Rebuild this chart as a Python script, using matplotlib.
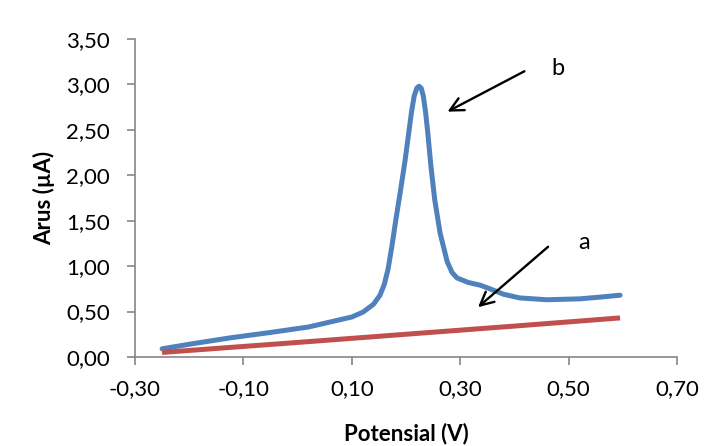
"""
Voltammogram of samples a and b: current vs potential.
"""
import matplotlib.pyplot as plt
from matplotlib.ticker import FuncFormatter

# sample b (blue)
pot_b = [-0.25, -0.20, -0.125, -0.05, 0.02, 0.06, 0.10, 0.121, 0.140, 0.152, 0.160,
         0.167, 0.174, 0.181, 0.189, 0.198, 0.204, 0.210, 0.215, 0.220, 0.224,
         0.228, 0.232, 0.236, 0.240, 0.246, 0.253, 0.263, 0.276, 0.285, 0.294,
         0.315, 0.337, 0.355, 0.38, 0.41, 0.46, 0.521, 0.56, 0.595]
cur_b = [0.09, 0.14, 0.21, 0.27, 0.33, 0.385, 0.44, 0.495, 0.58, 0.68, 0.80,
         0.97, 1.22, 1.50, 1.80, 2.15, 2.42, 2.69, 2.87, 2.96, 2.98,
         2.96, 2.87, 2.70, 2.48, 2.10, 1.73, 1.36, 1.05, 0.93, 0.87,
         0.82, 0.79, 0.75, 0.69, 0.65, 0.63, 0.64, 0.66, 0.68]

# sample a (red)
pot_a = [-0.25, 0.0, 0.244, 0.4, 0.595]
cur_a = [0.05, 0.16, 0.27, 0.34, 0.43]

x_ticks = [-0.30, -0.10, 0.10, 0.30, 0.50, 0.70]
y_ticks = [0.0, 0.5, 1.0, 1.5, 2.0, 2.5, 3.0, 3.5]

plt.rcParams['font.family'] = ['Lato', 'DejaVu Sans']

fig = plt.figure(figsize=(7.17, 4.46), dpi=100)
ax = fig.add_axes([0.1883, 0.1996, 0.7559, 0.713])

ax.plot(pot_b, cur_b, color='#4F81BD', lw=3.6, solid_capstyle='round',
        solid_joinstyle='round', zorder=3)
ax.plot(pot_a, cur_a, color='#C0504D', lw=3.6, solid_capstyle='butt', zorder=4)

ax.set_xlim(x_ticks[0], x_ticks[-1])
ax.set_ylim(y_ticks[0], y_ticks[-1])
ax.set_xticks(x_ticks)
ax.set_yticks(y_ticks)
comma = FuncFormatter(lambda v, _: f"{v:.2f}".replace('.', ','))
ax.xaxis.set_major_formatter(comma)
ax.yaxis.set_major_formatter(comma)

for side in ('top', 'right'):
    ax.spines[side].set_visible(False)
for side in ('left', 'bottom'):
    ax.spines[side].set_color('#868686')
    ax.spines[side].set_linewidth(1.2)
ax.tick_params(direction='out', length=6, width=1.2, color='#868686',
               labelsize=16, labelcolor='black')
ax.tick_params(axis='y', pad=12)
ax.tick_params(axis='x', pad=10)

ax.set_xlabel('Potensial (V)', fontsize=16, fontweight='bold', labelpad=17)
ax.set_ylabel('Arus (µA)', fontsize=16, fontweight='bold', labelpad=8)

arrow = dict(arrowstyle='->', color='black', lw=1.7, mutation_scale=24)
ax.annotate('', xy=(0.272, 2.686), xytext=(0.423, 3.159), arrowprops=arrow)
ax.annotate('', xy=(0.329, 0.528), xytext=(0.466, 1.233), arrowprops=arrow)
ax.text(0.480, 3.18, 'b', fontsize=17, ha='center', va='center')
ax.text(0.528, 1.255, 'a', fontsize=17, ha='center', va='center')

fig.savefig('out.png', dpi=100)
